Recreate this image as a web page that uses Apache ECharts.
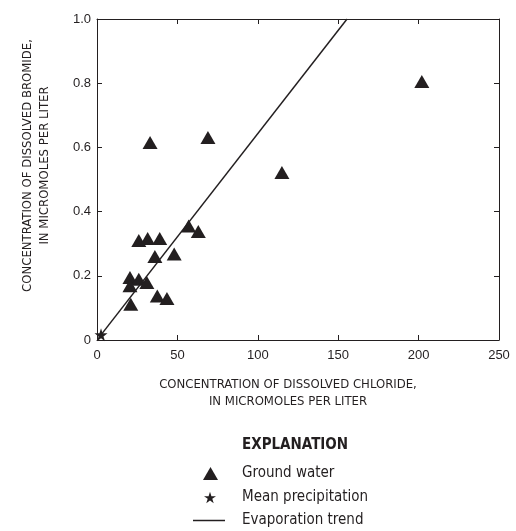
<!DOCTYPE html>
<html>
<head>
<meta charset="utf-8">
<script src="https://cdn.jsdelivr.net/npm/echarts@6/dist/echarts.min.js"></script>
<style>
html,body{margin:0;padding:0;background:#fff;}
#chart{width:516px;height:531px;}
</style>
</head>
<body>
<div id="chart"></div>
<script>
// ---- Data ----
const groundChloride = [202, 69, 33, 115, 57, 63, 26, 31.5, 39, 36, 48, 20.5, 26, 31, 20.5, 37.5, 43.5, 21];
const groundBromide  = [0.805, 0.631, 0.615, 0.522, 0.355, 0.338, 0.310, 0.316, 0.316, 0.260, 0.268, 0.195, 0.189, 0.179, 0.169, 0.137, 0.129, 0.111];
const precipChloride = [2.5];
const precipBromide  = [0.016];
const trendChloride  = [2.5, 155.5];
const trendBromide   = [0.016, 1.0];
const xTickValues = [0, 50, 100, 150, 200, 250];
const yTickValues = [0, 0.2, 0.4, 0.6, 0.8, 1.0];

const STAR = 'path://M50,0 L61.17,34.63 L97.55,34.55 L68.07,55.87 L79.39,90.45 L50,69 L20.61,90.45 L31.93,55.87 L2.45,34.55 L38.83,34.63 Z';
const INK = '#231f20';
const NARROW = "'Liberation Sans Narrow','DejaVu Sans Condensed','Liberation Sans',sans-serif";
const SANS = "'Liberation Sans',Arial,sans-serif";

const zip = (a, b) => a.map((v, i) => [v, b[i]]);

function axisBase() {
  return {
    type: 'value',
    axisLine: {show: true, onZero: false, lineStyle: {color: INK, width: 1}},
    axisTick: {show: true, inside: true, length: 5, lineStyle: {color: INK, width: 1}},
    splitLine: {show: false}
  };
}

const chart = echarts.init(document.getElementById('chart'), null, {renderer: 'canvas'});
chart.setOption({
  animation: false,
  backgroundColor: '#fff',
  grid: {left: 97, right: 17, top: 19, bottom: 191, containLabel: false},
  xAxis: [
    Object.assign(axisBase(), {
      min: xTickValues[0], max: xTickValues[xTickValues.length - 1], interval: 50,
      position: 'bottom',
      axisLabel: {color: INK, fontFamily: SANS, fontSize: 13, margin: 9},
      name: 'CONCENTRATION OF DISSOLVED CHLORIDE,\nIN MICROMOLES PER LITER',
      nameLocation: 'middle', nameGap: 36,
      nameTextStyle: {color: INK, fontFamily: NARROW, fontSize: 13, lineHeight: 17, align: 'center', padding: [0, 20, 0, 0]}
    }),
    Object.assign(axisBase(), {
      min: xTickValues[0], max: xTickValues[xTickValues.length - 1], interval: 50,
      position: 'top', axisLabel: {show: false}
    })
  ],
  yAxis: [
    Object.assign(axisBase(), {
      min: yTickValues[0], max: yTickValues[yTickValues.length - 1], interval: 0.2,
      position: 'left',
      axisLabel: {color: INK, fontFamily: SANS, fontSize: 13, margin: 6,
        formatter: v => v === 0 ? '0' : v.toFixed(1)},
      name: 'CONCENTRATION OF DISSOLVED BROMIDE,\nIN MICROMOLES PER LITER',
      nameLocation: 'middle', nameGap: 44,
      nameTextStyle: {color: INK, fontFamily: NARROW, fontSize: 13, lineHeight: 17, align: 'center', padding: [0, 0, 0, 28]}
    }),
    Object.assign(axisBase(), {
      min: yTickValues[0], max: yTickValues[yTickValues.length - 1], interval: 0.2,
      position: 'right', axisLabel: {show: false}
    })
  ],
  title: {
    text: 'EXPLANATION', left: 242, top: 438,
    padding: 0,
    textStyle: {color: INK, fontFamily: NARROW, fontWeight: 'bold', fontSize: 15}
  },
  legend: [
    {data: [{name: 'Ground water', icon: 'triangle'}], left: 203, top: 466, padding: 0,
     itemWidth: 15, itemHeight: 13, selectedMode: false,
     itemStyle: {opacity: 1},
     textStyle: {color: INK, fontFamily: NARROW, fontSize: 15, padding: [0, 0, 0, 19]}},
    {data: [{name: 'Mean precipitation', icon: STAR}], left: 204, top: 490, padding: 0,
     itemWidth: 12, itemHeight: 12, selectedMode: false,
     itemStyle: {opacity: 1},
     textStyle: {color: INK, fontFamily: NARROW, fontSize: 15, padding: [0, 0, 0, 21]}},
    {data: [{name: 'Evaporation trend', icon: 'rect'}], left: 193, top: 513, padding: 0,
     itemWidth: 32, itemHeight: 1.5, selectedMode: false,
     textStyle: {color: INK, fontFamily: NARROW, fontSize: 15, padding: [0, 0, 0, 12]}}
  ],
  series: [
    {
      name: 'Evaporation trend', type: 'line',
      data: zip(trendChloride, trendBromide),
      showSymbol: false, symbol: 'none',
      lineStyle: {color: INK, width: 1.5}, itemStyle: {color: INK},
      z: 3
    },
    {
      name: 'Ground water', type: 'scatter',
      data: zip(groundChloride, groundBromide),
      symbol: 'triangle', symbolSize: [15, 13],
      itemStyle: {color: INK, opacity: 1}, z: 2
    },
    {
      name: 'Mean precipitation', type: 'scatter',
      data: zip(precipChloride, precipBromide),
      symbol: STAR, symbolSize: 13,
      itemStyle: {color: INK, opacity: 1}, z: 4
    }
  ]
});
</script>
</body>
</html>
